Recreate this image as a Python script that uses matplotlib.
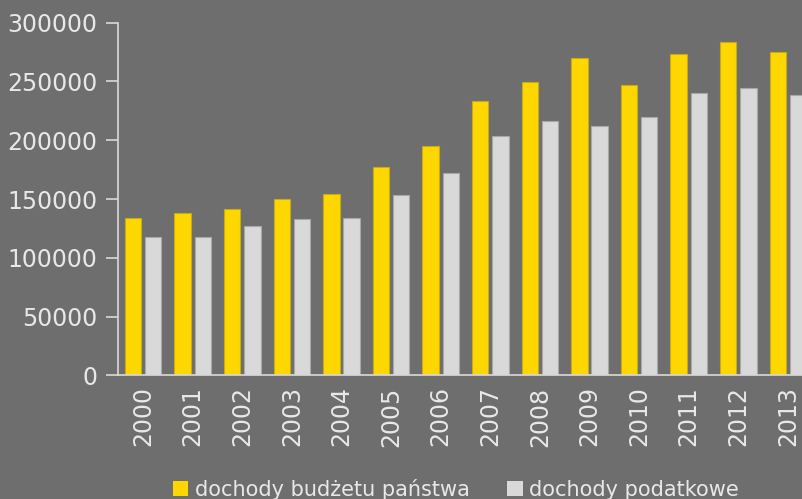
import matplotlib
matplotlib.use("Agg")
import matplotlib.pyplot as plt
import numpy as np
from matplotlib.patches import Patch

years = ["2000", "2001", "2002", "2003", "2004", "2005", "2006",
         "2007", "2008", "2009", "2010", "2011", "2012", "2013"]
budget_income = [133500, 138300, 141500, 150000, 154000, 177000, 194800,
                 233100, 249700, 270200, 246700, 273600, 283500, 275000]
tax_income = [117900, 117400, 126700, 133000, 133500, 153400, 172100,
              203600, 216000, 211800, 219500, 239900, 244700, 238200]
series_labels = ["dochody budżetu państwa", "dochody podatkowe"]
y_ticks = [0, 50000, 100000, 150000, 200000, 250000, 300000]

BG = "#6e6e6e"
YELLOW = "#ffd700"
GRAY = "#d9d9d9"
TEXT = "#e8e8e8"

fig = plt.figure(figsize=(8.03, 4.99), dpi=100, facecolor=BG)
ax = fig.add_axes([0.1473, 0.2479, 0.8648, 0.7066], facecolor=BG)

x = np.arange(len(years))
w = 0.33
ax.bar(x - 0.205, budget_income, w, color=YELLOW, edgecolor="#c9aa10", linewidth=0.8)
ax.bar(x + 0.205, tax_income, w, color=GRAY, edgecolor="#a8a8a8", linewidth=0.8)

ax.set_xlim(-0.5, len(years) - 0.5)
ax.set_ylim(0, 300000)
ax.set_yticks(y_ticks)
ax.set_yticklabels([str(v) for v in y_ticks])
ax.set_xticks(x)
ax.set_xticklabels(years, rotation=90)

for side in ("top", "right"):
    ax.spines[side].set_visible(False)
for side in ("left", "bottom"):
    ax.spines[side].set_color(GRAY)
    ax.spines[side].set_linewidth(1.2)
ax.tick_params(axis="y", colors=GRAY, labelcolor=TEXT, labelsize=17, length=9, width=1.2, pad=6)
ax.tick_params(axis="x", colors=GRAY, labelcolor=TEXT, labelsize=17, length=0, pad=8)

handles = [Patch(facecolor=YELLOW, edgecolor="none"), Patch(facecolor=GRAY, edgecolor="none")]
fig.legend(handles, series_labels, loc="center left", bbox_to_anchor=(0.215, 0.02),
           ncol=2, frameon=False, fontsize=15, labelcolor=TEXT,
           handlelength=0.75, handleheight=0.75, handletextpad=0.3, columnspacing=1.8,
           borderaxespad=0, borderpad=0)

fig.savefig("out.png", dpi=100, facecolor=BG)
